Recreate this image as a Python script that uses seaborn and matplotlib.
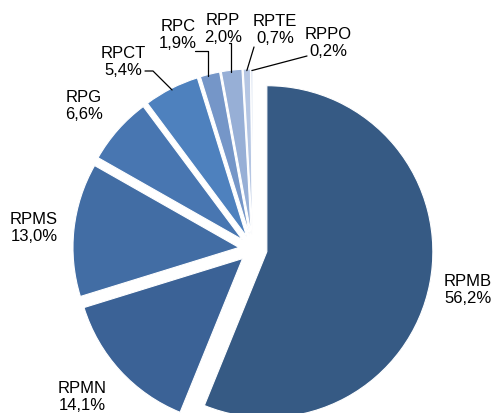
import matplotlib
matplotlib.use("Agg")
import matplotlib.pyplot as plt
import seaborn as sns
import numpy as np

categories = ["RPMB", "RPMN", "RPMS", "RPG", "RPCT", "RPC", "RPP", "RPTE", "RPPO"]
values = [56.2, 14.1, 13.0, 6.6, 5.4, 1.9, 2.0, 0.7, 0.2]
value_labels = ["56,2%", "14,1%", "13,0%", "6,6%", "5,4%", "1,9%", "2,0%", "0,7%", "0,2%"]
colors = ["#365A84", "#3B6296", "#426DA4", "#4876B1", "#4E81BE",
          "#7596C8", "#97AFD6", "#B5C6E3", "#D3DDEF"]

sns.set_theme(style="white")
plt.rcParams['font.family'] = ['Liberation Sans', 'DejaVu Sans']

W, H = 494, 414
fig = plt.figure(figsize=(W / 100, H / 100), dpi=100)
ax = fig.add_axes([0, 0, 1, 1])

cx_px, cy_px, R_px = 253, 250, 166

explode_d = 0.085
wedges, _ = ax.pie(values, colors=colors, startangle=90, counterclock=False,
                   explode=[explode_d] * len(values), radius=1.0,
                   wedgeprops=dict(edgecolor="white", linewidth=0.8))
ax.set_axis_off()
ax.set_aspect("auto")
ax.set_xlim(-cx_px / R_px, (W - cx_px) / R_px)
ax.set_ylim(-(H - cy_px) / R_px, cy_px / R_px)

def px(x, y):
    return ((x - cx_px) / R_px, (cy_px - y) / R_px)

# label positions (pixel coords of text centres) and leader lines
label_pos = {
    "RPMB": (468, 290), "RPMN": (82, 397), "RPMS": (34, 228), "RPG": (84, 106),
    "RPCT": (123, 62), "RPC": (178, 35), "RPP": (223, 29), "RPTE": (275, 30),
    "RPPO": (328, 43),
}
leader_mid = {
    "RPCT": [(145, 72), (153, 72)],
    "RPC": [(195, 52), (208, 52)],
    "RPP": [(229, 44), (231, 44)],
    "RPTE": [(254, 48)],
    "RPPO": [(307, 57)],
}

for w, cat, vl in zip(wedges, categories, value_labels):
    x, y = px(*label_pos[cat])
    ax.text(x, y, f"{cat}\n{vl}", ha="center", va="center", fontsize=12,
            color="black", linespacing=1.12)
    if cat in leader_mid:
        theta = np.deg2rad((w.theta1 + w.theta2) / 2)
        r = 1.0 + explode_d - 0.01
        ax_x, ax_y = r * np.cos(theta), r * np.sin(theta)
        pts = [px(*p) for p in leader_mid[cat]]
        if cat in ("RPC", "RPP"):
            pts.append((pts[-1][0], ax_y))
        else:
            pts.append((ax_x, ax_y))
        xs, ys = zip(*pts)
        ax.plot(xs, ys, color="black", linewidth=0.9)

fig.savefig("out.png", dpi=100)
